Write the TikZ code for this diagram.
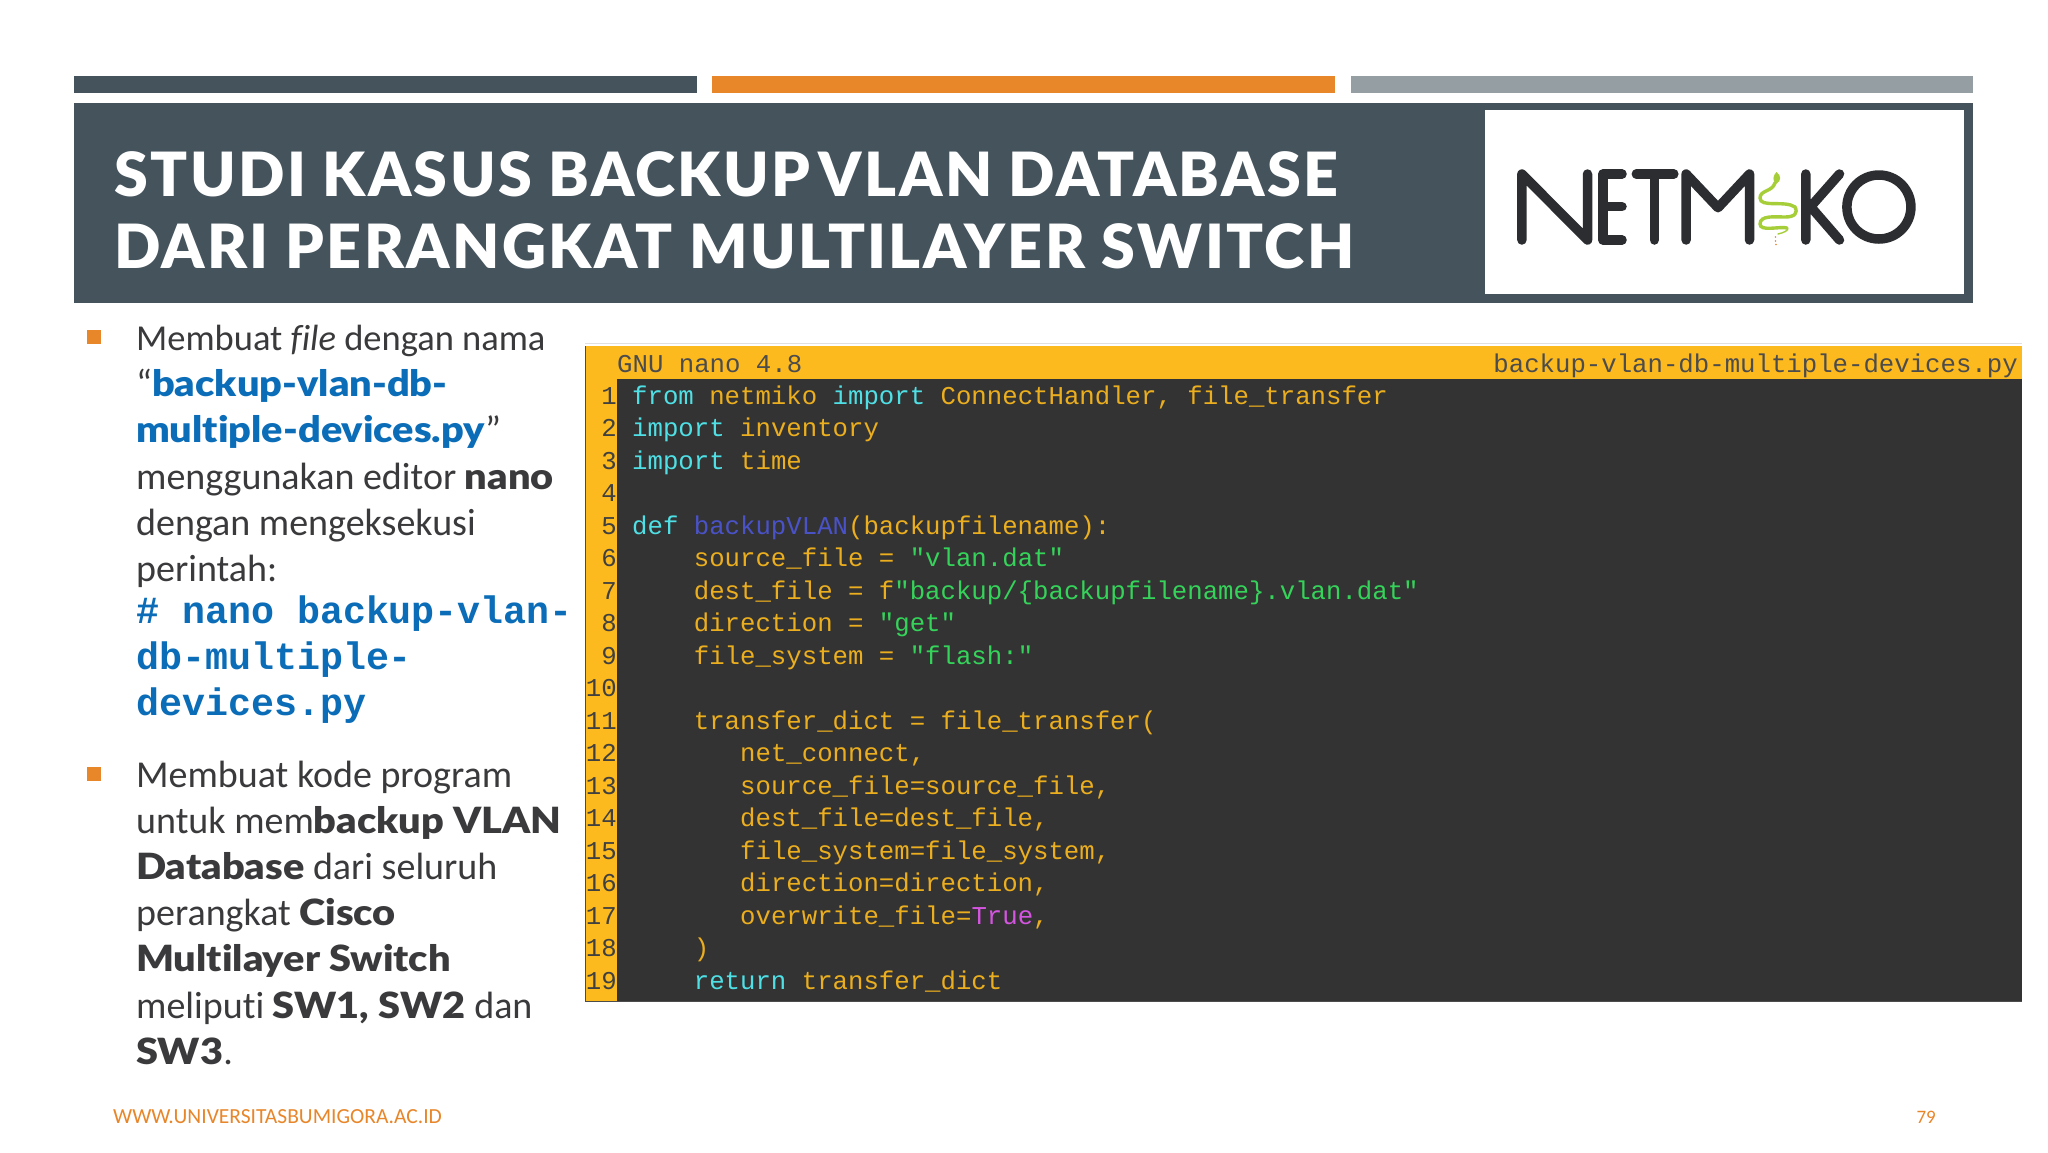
\documentclass[tikz,border=0pt]{standalone}
\usepackage{fontspec}
\setmainfont{Carlito}[Ligatures=NoCommon,BoldFont={Lato Black},BoldFeatures={Scale=0.95,FakeStretch=1.10}]
\newfontfamily\codefont{Liberation Mono}
\newfontfamily\titlefont{Lato Black}[LetterSpace=4]
\newfontfamily\cmdfont{Liberation Mono}[BoldFont={Liberation Mono Bold}]
\definecolor{hdr}{HTML}{44535C}
\definecolor{orangeb}{HTML}{E8862A}
\definecolor{grayb}{HTML}{959FA3}
\definecolor{txt}{HTML}{3A3A3C}
\definecolor{blu}{HTML}{0B6DB8}
\definecolor{yel}{HTML}{FDBA1F}
\definecolor{term}{HTML}{333333}
\definecolor{cYel}{HTML}{EBAE1E}
\definecolor{cCy}{HTML}{4FE0E6}
\definecolor{cGr}{HTML}{35D35A}
\definecolor{cBl}{HTML}{4A52C8}
\definecolor{cMg}{HTML}{D455E0}
\definecolor{logoK}{HTML}{2B2D30}
\definecolor{snakeg}{HTML}{A6CE39}
\newcommand{\sC}[1]{\textcolor{cCy}{#1}}
\newcommand{\sG}[1]{\textcolor{cGr}{#1}}
\newcommand{\sB}[1]{\textcolor{cBl}{#1}}
\newcommand{\sM}[1]{\textcolor{cMg}{#1}}
\tikzset{
 x=1pt,y=-1pt,
 bartop/.style={fill=#1,draw=none},
 titlet/.style={anchor=base west,inner sep=0pt,text=white,font=\fontsize{61}{61}\selectfont\titlefont},
 bodyt/.style={anchor=base west,inner sep=0pt,text=txt,font=\fontsize{38}{38}\selectfont},
 cmdt/.style={anchor=base west,inner sep=0pt,text=blu,font=\fontsize{38.3}{38.3}\selectfont\cmdfont\bfseries},
 codet/.style={anchor=base west,inner sep=0pt,text=cYel,font=\fontsize{25.7}{25.7}\selectfont\codefont},
 numt/.style={anchor=base east,inner sep=0pt,text=black!75,font=\fontsize{25.7}{25.7}\selectfont\codefont},
 bull/.style={fill=orangeb,draw=none},
 footer/.style={anchor=base west,inner sep=0pt,text=orangeb,font=\fontsize{21.5}{21.5}\selectfont},
 logostroke/.style={draw=logoK,line width=9.5pt,line cap=round,line join=round},
}
\begin{document}
\begin{tikzpicture}
\useasboundingbox (0,0) rectangle (2048,1152);
\fill[white] (0,0) rectangle (2048,1152);
% top bars
\fill[bartop=hdr] (74,76) rectangle (697,93);
\fill[bartop=orangeb] (712,76) rectangle (1335,93);
\fill[bartop=grayb] (1351,76) rectangle (1973,93);
% header
\fill[hdr] (74,103) rectangle (1973,303);
\fill[white] (1485,110) rectangle (1964,294);
\node[titlet] (t1) at (114,196) {STUDI KASUS BACKUP\hspace{-8pt} VLAN DATABASE};
\node[titlet] (t2) at (114,268) {DARI PERANGKAT MULTILAYER SWITCH};
% logo
\draw[logostroke] (1521.9,240) -- (1521.9,174) -- (1587.5,240) -- (1587.5,174);
\draw[logostroke] (1622,174) -- (1602.9,174) -- (1602.9,240) -- (1622,240) (1602.9,206.7) -- (1622,206.7);
\draw[logostroke] (1636.3,174) -- (1673.8,174) (1654.3,174) -- (1654.3,240);
\draw[logostroke] (1686.1,240) -- (1686.1,174) -- (1718,207.7) -- (1749.5,174) -- (1749.5,240);
\draw[logostroke] (1805.8,174) -- (1805.8,240) (1839.5,174) -- (1810.6,206.7) -- (1839.5,240);
\draw[logostroke] (1878.9,207) circle (32);
\draw[snakeg,line width=3.4pt,line cap=round] (1775,183) .. controls (1772,192) and (1760,190) .. (1760,198) .. controls (1760,208) and (1785,200) .. (1795,207) .. controls (1798,213) and (1795,217) .. (1785,217) .. controls (1775,217) and (1760,215) .. (1760,224) .. controls (1760,232) and (1780,226) .. (1787,228);
\draw[snakeg,line width=1.4pt,line cap=round] (1787,228) .. controls (1790,230) and (1783,233) .. (1778,234);
\fill[snakeg] (1776.5,172) .. controls (1781,175) and (1782,181) .. (1776,184) .. controls (1772,181) and (1773,175) .. (1776.5,172) -- cycle;
\fill[orangeb] (1775.5,237) circle (0.9) (1775.5,241) circle (0.9) (1776,244.5) circle (0.9);
% bullets
\fill[bull] (87,330) rectangle (101,344);
\fill[bull] (87,767) rectangle (101,781);
% left text
\node[bodyt,font=\fontsize{36.5}{36.5}\selectfont] (b1) at (136,350) {Membuat \textit{file} dengan nama};
\node[bodyt] (b2) at (136,396) {“\textcolor{blu}{\textbf{backup-vlan-db-}}};
\node[bodyt] (b3) at (136,442) {\textcolor{blu}{\textbf{multiple-devices.py}}”};
\node[bodyt] (b4) at (136,489) {menggunakan editor \textbf{nano}};
\node[bodyt] (b5) at (136,535) {dengan mengeksekusi};
\node[bodyt] (b6) at (136,581) {perintah:};
\node[cmdt] (c1) at (136,623) {\# nano backup-vlan-};
\node[cmdt] (c2) at (136,669) {db-multiple-};
\node[cmdt] (c3) at (136,715) {devices.py};
\node[bodyt] (d1) at (136,787) {Membuat kode program};
\node[bodyt] (d2) at (136,833) {untuk mem\textbf{backup VLAN}};
\node[bodyt] (d3) at (136,879) {\textbf{Database} dari seluruh};
\node[bodyt] (d4) at (136,925) {perangkat \textbf{Cisco}};
\node[bodyt] (d5) at (136,971) {\textbf{Multilayer Switch}};
\node[bodyt] (d6) at (136,1018) {meliputi \textbf{SW1, SW2} dan};
\node[bodyt] (d7) at (136,1064) {\textbf{SW3}.};
% footer
\node[footer] (f1) at (113,1123) {WWW.UNIVERSITASBUMIGORA.AC.ID};
\node[anchor=base east,inner sep=0pt,text=orangeb,font=\fontsize{19}{19}\selectfont] (f2) at (1936,1123) {79};
% editor
\draw[black!12,line width=1pt] (585,343) -- (2022,343);
\fill[yel] (585,346) rectangle (2022,379);
\fill[term] (617,379) rectangle (2022,1001);
\fill[yel] (585,379) rectangle (617,1001);
\draw[black!70,line width=1pt] (585,346) -- (585,1001) -- (2022,1001);
\node[codet,text=black!70] (h1) at (617,372) {GNU nano 4.8};
\node[anchor=base east,inner sep=0pt,font=\fontsize{25.7}{25.7}\selectfont\codefont,text=black!70] (h2) at (2018,372) {backup-vlan-db-multiple-devices.py};
\foreach \n in {1,...,19} {
  \pgfmathsetmacro{\yy}{404+32.5*(\n-1)}
  \node[numt] (n\n) at (617,\yy) {\n};
}
\node[codet] (l1) at (632,404) {\sC{from} netmiko \sC{import} ConnectHandler, file\_transfer};
\node[codet] (l2) at (632,436.5) {\sC{import} inventory};
\node[codet] (l3) at (632,469) {\sC{import} time};
\node[codet] (l5) at (632,534) {\sC{def} \sB{backupVLAN}(backupfilename):};
\node[codet] (l6) at (632,566.5) {\phantom{0000}source\_file = \sG{"vlan.dat"}};
\node[codet] (l7) at (632,599) {\phantom{0000}dest\_file = f\sG{"backup/\{backupfilename\}.vlan.dat"}};
\node[codet] (l8) at (632,631.5) {\phantom{0000}direction = \sG{"get"}};
\node[codet] (l9) at (632,664) {\phantom{0000}file\_system = \sG{"flash:"}};
\node[codet] (l11) at (632,729) {\phantom{0000}transfer\_dict = file\_transfer(};
\node[codet] (l12) at (632,761.5) {\phantom{0000000}net\_connect,};
\node[codet] (l13) at (632,794) {\phantom{0000000}source\_file=source\_file,};
\node[codet] (l14) at (632,826.5) {\phantom{0000000}dest\_file=dest\_file,};
\node[codet] (l15) at (632,859) {\phantom{0000000}file\_system=file\_system,};
\node[codet] (l16) at (632,891.5) {\phantom{0000000}direction=direction,};
\node[codet] (l17) at (632,924) {\phantom{0000000}overwrite\_file=\sM{True},};
\node[codet] (l18) at (632,956.5) {\phantom{0000})};
\node[codet] (l19) at (632,989) {\phantom{0000}\sC{return} transfer\_dict};
\end{tikzpicture}
\end{document}
